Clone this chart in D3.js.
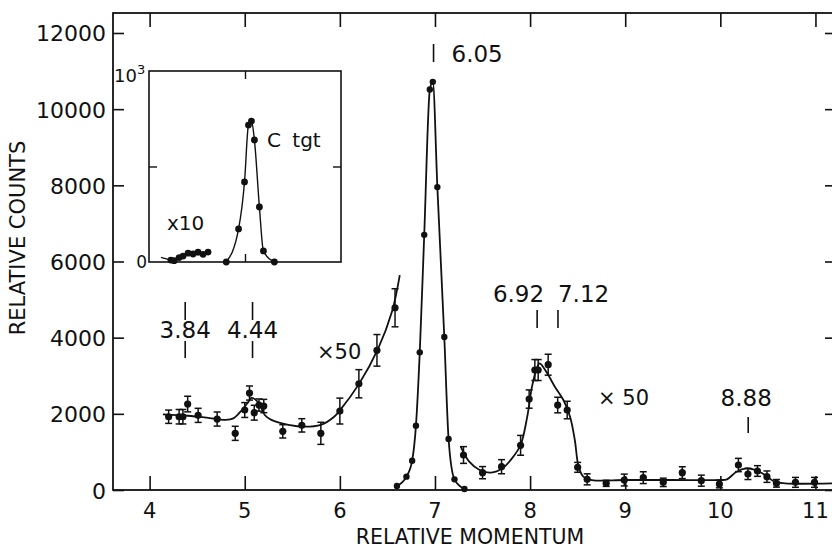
<!DOCTYPE html>
<html>
<head>
<meta charset="utf-8">
<script src="https://cdn.jsdelivr.net/npm/d3@7"></script>
<style>
  body { margin: 0; background: #fff; }
  text { font-family: "DejaVu Sans", sans-serif; fill: #111; }
</style>
</head>
<body>
<div id="chart"></div>
<script>
// Axis ticks
var xTicks = [4, 5, 6, 7, 8, 9, 10, 11];
var yTicks = [0, 2000, 4000, 6000, 8000, 10000, 12000];

// Low momentum side, x50 (points with errors)
var lowMomentum = [4.20, 4.31, 4.35, 4.40, 4.51, 4.71, 4.90, 5.00, 5.05, 5.10, 5.15, 5.20, 5.40, 5.60, 5.80, 6.00, 6.20, 6.39, 6.58];
var lowCounts   = [1924, 1924, 1924, 2257, 1960, 1863, 1488, 2100, 2546, 2030, 2231, 2205, 1540, 1697, 1488, 2073, 2790, 3667, 4785];
var lowErrors   = [175, 190, 190, 205, 185, 185, 185, 195, 185, 195, 160, 175, 175, 175, 290, 340, 370, 415, 500];

// fitted curve through low side
var lowFitMomentum = [4.14, 4.4, 4.6, 4.8, 4.88, 4.97, 5.04, 5.07, 5.11, 5.16, 5.21, 5.28, 5.46, 5.63, 5.8, 5.94, 6.0, 6.2, 6.4, 6.55, 6.63];
var lowFitCounts   = [1986, 1950, 1900, 1840, 1880, 2100, 2320, 2420, 2380, 2230, 1970, 1840, 1710, 1662, 1710, 1925, 2090, 2780, 3700, 4700, 5640];

// Main 6.05 peak (unscaled)
var peakMomentum = [6.60, 6.70, 6.76, 6.80, 6.84, 6.887, 6.946, 6.977, 7.025, 7.098, 7.143, 7.205, 7.31];
var peakCounts   = [105, 350, 770, 1690, 3614, 6700, 10517, 10717, 7953, 4016, 1339, 280, 26];

// High momentum side, x50
var highMomentum = [7.30, 7.50, 7.70, 7.90, 7.99, 8.05, 8.085, 8.19, 8.29, 8.39, 8.50, 8.60, 8.80, 8.99, 9.19, 9.40, 9.60, 9.80, 9.99, 10.19, 10.29, 10.39, 10.49, 10.59, 10.79, 10.99];
var highCounts   = [919, 455, 612, 1173, 2388, 3150, 3150, 3290, 2231, 2100, 595, 280, 175, 262, 324, 201, 455, 245, 157, 656, 420, 499, 350, 175, 201, 201];
var highErrors   = [220, 160, 185, 260, 240, 275, 275, 275, 205, 230, 130, 145, 80, 155, 155, 110, 155, 145, 100, 175, 145, 140, 150, 100, 130, 130];

var highFitMomentum = [7.27, 7.36, 7.47, 7.59, 7.71, 7.81, 7.9, 7.97, 8.02, 8.07, 8.1, 8.18, 8.26, 8.35, 8.42, 8.47, 8.51, 8.56, 8.65, 9.0, 9.5, 10.0, 10.07, 10.17, 10.27, 10.37, 10.47, 10.57, 10.68, 11.2];
var highFitCounts   = [1137, 743, 525, 455, 570, 832, 1182, 1925, 2713, 3195, 3327, 3064, 2713, 2363, 1925, 1313, 612, 350, 262, 262, 262, 262, 280, 480, 570, 525, 394, 218, 175, 175];

// Excitation energy markers
var levelNames    = ["3.84", "4.44", "6.05", "6.92", "7.12", "8.88"];
var levelMomentum = [4.374, 5.082, 6.985, 8.074, 8.293, 10.293];

// Inset: C target spectrum
var insetX = [0.805, 0.933, 0.995, 1.036, 1.067, 1.098, 1.150, 1.192, 1.306];
var insetY = [0, 173, 419, 717, 738, 639, 288, 58, 0];
var insetLowX = [0.228, 0.262, 0.314, 0.355, 0.407, 0.459, 0.511, 0.563, 0.615];
var insetLowY = [10, 7, 23, 31, 46, 42, 51, 40, 52];


var visualize = function() {
  var svg = d3.select("#chart")
    .append("svg")
    .attr("width", 832)
    .attr("height", 550);

  var x = d3.scaleLinear().domain([3.615, 11.195]).range([113, 834]);
  var y = d3.scaleLinear().domain([0, 12525]).range([490, 13]);

  // frame
  svg.append("rect")
     .attr("x", 113).attr("y", 13)
     .attr("width", 721).attr("height", 477)
     .attr("fill", "none")
     .attr("stroke", "#111")
     .attr("stroke-width", 1.8);

  // ticks (all pointing inward)
  var bottomAxis = d3.axisTop(x).tickValues(xTicks).tickSize(14).tickFormat("");
  svg.append("g").attr("transform", "translate(0,490)").call(bottomAxis);
  var topAxis = d3.axisBottom(x).tickValues(xTicks).tickSize(14).tickFormat("");
  svg.append("g").attr("transform", "translate(0,13)").call(topAxis);
  var leftAxis = d3.axisRight(y).tickValues(yTicks).tickSize(11).tickFormat("");
  svg.append("g").attr("transform", "translate(113,0)").call(leftAxis);
  var rightAxis = d3.axisLeft(y).tickValues(yTicks).tickSize(9).tickFormat("");
  svg.append("g").attr("transform", "translate(834,0)").call(rightAxis);
  svg.selectAll(".domain").remove();
  svg.selectAll(".tick line").attr("stroke", "#111").attr("stroke-width", 1.6);

  // tick labels
  svg.selectAll(".xlab")
     .data(xTicks)
     .enter()
     .append("text")
     .attr("x", function(d) { return x(d); })
     .attr("y", 518)
     .attr("text-anchor", "middle")
     .style("font-size", "21px")
     .text(function(d) { return d; });

  svg.selectAll(".ylab")
     .data(yTicks)
     .enter()
     .append("text")
     .attr("x", 106)
     .attr("y", function(d) { return y(d) + 8.5; })
     .attr("text-anchor", "end")
     .style("font-size", "22px")
     .text(function(d) { return d; });

  svg.append("text")
     .attr("x", 470).attr("y", 544)
     .attr("text-anchor", "middle")
     .style("font-size", "20.5px")
     .text("RELATIVE MOMENTUM");

  svg.append("text")
     .attr("transform", "translate(25,238) rotate(-90)")
     .attr("text-anchor", "middle")
     .style("font-size", "21px")
     .text("RELATIVE COUNTS");

  // curves
  var line = d3.line()
    .x(function(d) { return x(d[0]); })
    .y(function(d) { return y(d[1]); })
    .curve(d3.curveCatmullRom.alpha(0.5));

  var lowFit = d3.zip(lowFitMomentum, lowFitCounts);
  var highFit = d3.zip(highFitMomentum, highFitCounts);
  var peak = d3.zip(peakMomentum, peakCounts);

  svg.append("path").attr("d", line(lowFit))
     .attr("fill", "none").attr("stroke", "#111").attr("stroke-width", 1.8);
  svg.append("path").attr("d", line(highFit))
     .attr("fill", "none").attr("stroke", "#111").attr("stroke-width", 1.8);
  svg.append("path").attr("d", line.curve(d3.curveMonotoneX)(peak))
     .attr("fill", "none").attr("stroke", "#111").attr("stroke-width", 1.8);

  // error bars
  var errData = d3.zip(lowMomentum, lowCounts, lowErrors).concat(d3.zip(highMomentum, highCounts, highErrors));
  var eb = svg.selectAll(".err")
     .data(errData)
     .enter()
     .append("g")
     .attr("stroke", "#111")
     .attr("stroke-width", 1.5);
  eb.append("line")
    .attr("x1", function(d) { return x(d[0]); })
    .attr("x2", function(d) { return x(d[0]); })
    .attr("y1", function(d) { return y(d[1] - d[2]); })
    .attr("y2", function(d) { return y(d[1] + d[2]); });
  eb.append("line")
    .attr("x1", function(d) { return x(d[0]) - 3.5; })
    .attr("x2", function(d) { return x(d[0]) + 3.5; })
    .attr("y1", function(d) { return y(d[1] + d[2]); })
    .attr("y2", function(d) { return y(d[1] + d[2]); });
  eb.append("line")
    .attr("x1", function(d) { return x(d[0]) - 3.5; })
    .attr("x2", function(d) { return x(d[0]) + 3.5; })
    .attr("y1", function(d) { return y(d[1] - d[2]); })
    .attr("y2", function(d) { return y(d[1] - d[2]); });

  svg.selectAll(".pt")
     .data(errData)
     .enter()
     .append("circle")
     .attr("r", 3.6)
     .attr("cx", function(d) { return x(d[0]); })
     .attr("cy", function(d) { return y(d[1]); })
     .attr("fill", "#111");

  svg.selectAll(".pk")
     .data(peak)
     .enter()
     .append("circle")
     .attr("r", 3.2)
     .attr("cx", function(d) { return x(d[0]); })
     .attr("cy", function(d) { return y(d[1]); })
     .attr("fill", "#111");

  // level markers: [text anchor, text dx, text baseline, marker top, marker bottom, split]
  var placement = [
    ["middle", 0, 338, 302, 358, true],
    ["middle", 0, 338, 302, 358, true],
    ["start", 18, 62, 44, 62, false],
    ["end", 7, 302, 310, 328, false],
    ["start", 0, 302, 310, 328, false],
    ["middle", -2, 406, 417, 433, false]
  ];
  levelNames.forEach(function(name, i) {
    var p = placement[i];
    var mx = x(levelMomentum[i]);
    if (p[5]) {
      svg.append("line").attr("x1", mx).attr("x2", mx).attr("y1", p[3]).attr("y2", 320)
         .attr("stroke", "#111").attr("stroke-width", 1.6);
      svg.append("line").attr("x1", mx).attr("x2", mx).attr("y1", 341).attr("y2", p[4])
         .attr("stroke", "#111").attr("stroke-width", 1.6);
    } else {
      svg.append("line").attr("x1", mx).attr("x2", mx).attr("y1", p[3]).attr("y2", p[4])
         .attr("stroke", "#111").attr("stroke-width", 1.6);
    }
    svg.append("text")
       .attr("x", mx + p[1])
       .attr("y", p[2])
       .attr("text-anchor", p[0])
       .style("font-size", "23px")
       .text(name);
  });

  svg.append("text").attr("x", 317).attr("y", 359)
     .style("font-size", "21px").text("×50");
  svg.append("text").attr("x", 598).attr("y", 405)
     .style("font-size", "21px").text("× 50");

  // Inset
  var ix = d3.scaleLinear().domain([0, 2]).range([149, 341]);
  var iy = d3.scaleLinear().domain([0, 1000]).range([262, 71]);
  var inset = svg.append("g");
  inset.append("rect")
       .attr("x", 149).attr("y", 71)
       .attr("width", 192).attr("height", 191)
       .attr("fill", "#fff")
       .attr("stroke", "#111")
       .attr("stroke-width", 1.6);
  inset.append("g").attr("transform", "translate(0,262)").call(d3.axisTop(ix).tickValues([1]).tickSize(8).tickFormat(""));
  inset.append("g").attr("transform", "translate(0,71)").call(d3.axisBottom(ix).tickValues([1]).tickSize(8).tickFormat(""));
  inset.append("g").attr("transform", "translate(149,0)").call(d3.axisRight(iy).tickValues([500]).tickSize(8).tickFormat(""));
  inset.append("g").attr("transform", "translate(341,0)").call(d3.axisLeft(iy).tickValues([500]).tickSize(8).tickFormat(""));
  inset.selectAll(".domain").remove();
  inset.selectAll(".tick line").attr("stroke", "#111").attr("stroke-width", 1.4);

  inset.append("text").attr("x", 147).attr("y", 268)
       .attr("text-anchor", "end").style("font-size", "17px").text("0");
  var ten = inset.append("text").attr("x", 114).attr("y", 82).style("font-size", "18px");
  ten.append("tspan").text("10");
  ten.append("tspan").attr("dy", -8).style("font-size", "13px").text("3");

  var iline = d3.line()
    .x(function(d) { return ix(d[0]); })
    .y(function(d) { return iy(d[1]); });

  var cPeak = d3.zip(insetX, insetY);
  var cLow = [[0.124, 24]].concat(d3.zip(insetLowX, insetLowY));
  inset.append("path").attr("d", iline.curve(d3.curveMonotoneX)(cPeak))
       .attr("fill", "none").attr("stroke", "#111").attr("stroke-width", 1.4);
  inset.append("path").attr("d", iline.curve(d3.curveLinear)(cLow))
       .attr("fill", "none").attr("stroke", "#111").attr("stroke-width", 1.4);
  inset.selectAll(".ip")
       .data(cPeak.concat(d3.zip(insetLowX, insetLowY)))
       .enter()
       .append("circle")
       .attr("r", 3.4)
       .attr("cx", function(d) { return ix(d[0]); })
       .attr("cy", function(d) { return iy(d[1]); })
       .attr("fill", "#111");

  inset.append("text").attr("x", 167).attr("y", 230)
       .style("font-size", "20px").text("x10");
  inset.append("text").attr("x", 267).attr("y", 147)
       .style("font-size", "20px").style("word-spacing", "5px").text("C tgt");
};

visualize();
</script>
</body>
</html>
